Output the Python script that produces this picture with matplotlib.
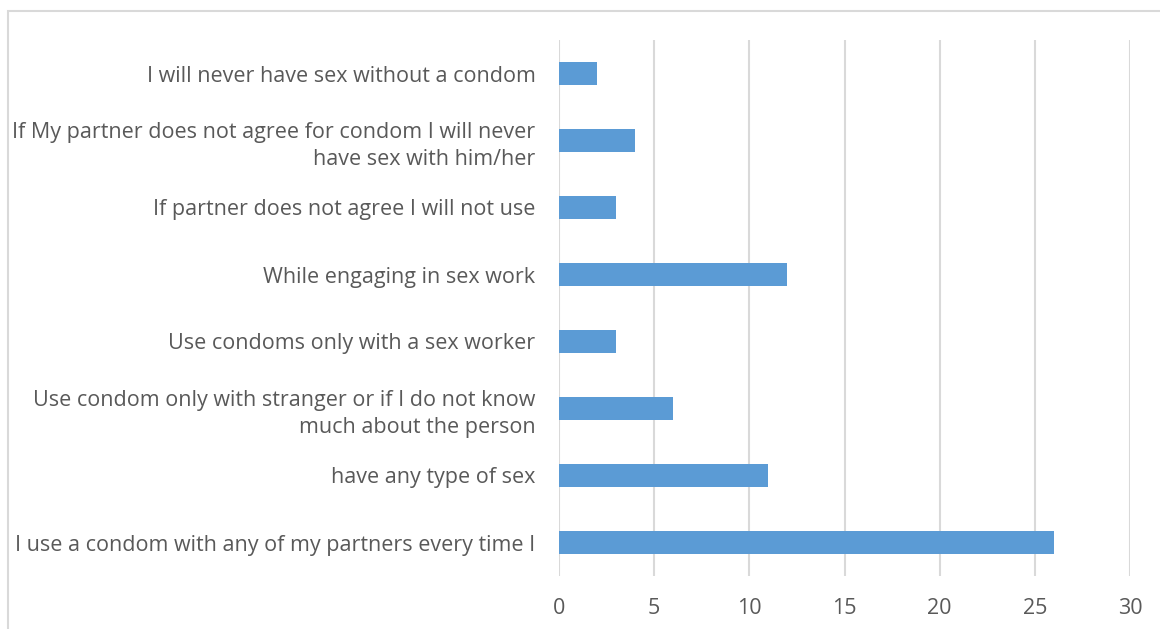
import matplotlib
matplotlib.use('Agg')
import matplotlib.pyplot as plt
from matplotlib.patches import Rectangle

### data (top to bottom as in the chart)
labels = ['I will never have sex without a condom',
          'If My partner does not agree for condom I will never\nhave sex with him/her',
          'If partner does not agree I will not use',
          'While engaging in sex work',
          'Use condoms only with a sex worker',
          'Use condom only with stranger or if I do not know\nmuch about the person',
          'have any type of sex',
          'I use a condom with any of my partners every time I']
values = [2, 4, 3, 12, 3, 6, 11, 26]
xticks = [0, 5, 10, 15, 20, 25, 30]

plt.rcParams['font.family'] = ['Open Sans', 'DejaVu Sans']
W, H = 1160, 629
fig = plt.figure(figsize=(W / 100, H / 100), dpi=100)

# chart frame (light gray border)
fig.patches.append(Rectangle((8 / W, -0.1), 1.2, 1 - 11 / H + 0.1, transform=fig.transFigure,
                             fill=False, edgecolor='#d9d9d9', linewidth=1.5))

ax = fig.add_axes([559 / W, 1 - 576 / H, (1130 - 559) / W, (576 - 40) / H])
pos = list(range(len(labels)))[::-1]
ax.barh(pos, values, height=0.35, color='#5B9BD5', zorder=3)

ax.set_xlim(0, 30)
ax.set_ylim(-0.5, len(labels) - 0.5)
ax.set_xticks(xticks)
ax.set_xticklabels([str(v) for v in xticks], fontsize=15.5, color='#595959')
ax.set_yticks(pos)
ax.set_yticklabels(labels, fontsize=15.5, color='#595959', linespacing=1.4)
ax.tick_params(axis='both', length=0)
ax.tick_params(axis='x', pad=16)
ax.tick_params(axis='y', pad=17)
ax.grid(axis='x', color='#d9d9d9', linewidth=1.5, zorder=0)
for s in ax.spines.values():
    s.set_visible(False)

fig.savefig('out.png', dpi=100)
